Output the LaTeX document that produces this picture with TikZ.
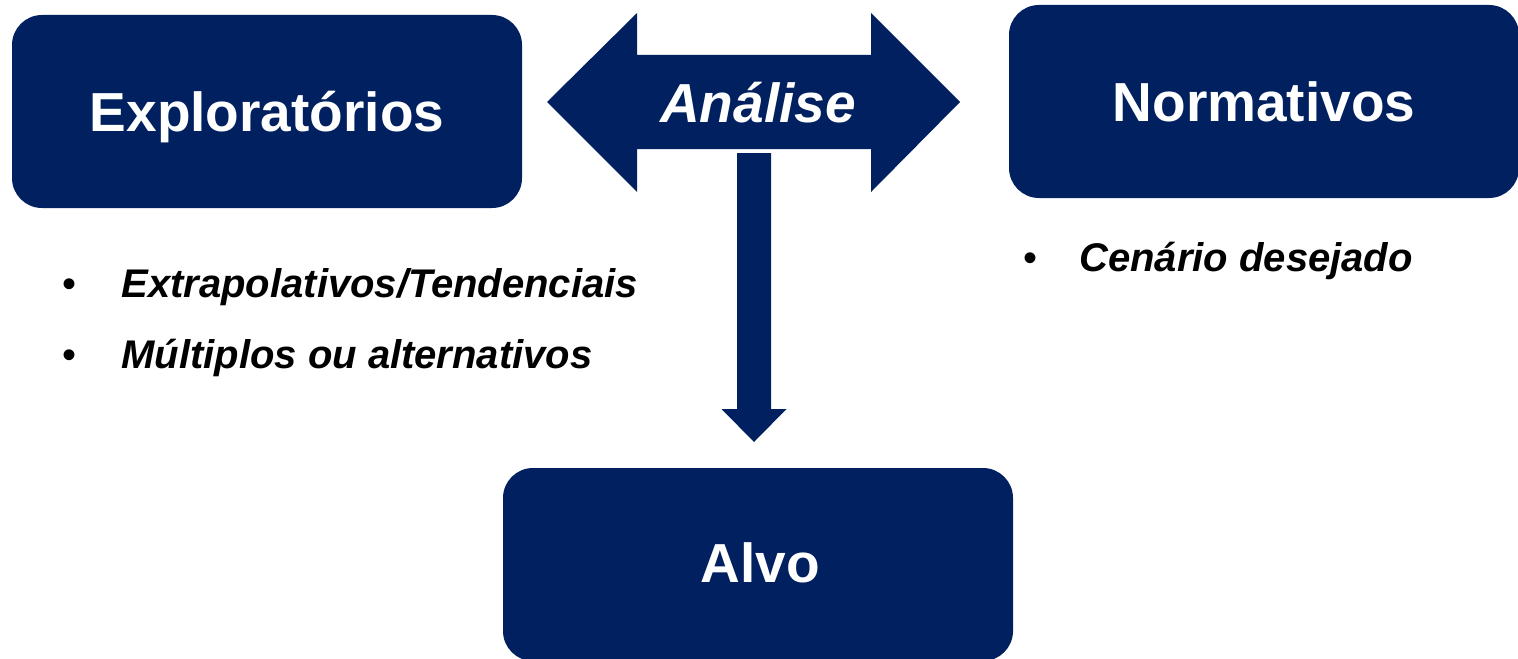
\documentclass[tikz,border=0pt]{standalone}
\usepackage{fontspec}
\setmainfont{Liberation Sans}
\definecolor{navy}{RGB}{0,32,96}
\begin{document}
\begin{tikzpicture}[x=0.5pt,y=-0.5pt,
  box/.style={fill=navy, draw=none, rounded corners=15pt, minimum width=255pt, minimum height=96.5pt, inner sep=0pt},
  boxtext/.style={text=white, font=\fontsize{27.5pt}{33pt}\selectfont\bfseries, inner sep=0pt, anchor=base},
  arrowtext/.style={text=white, font=\fontsize{27.5pt}{33pt}\selectfont\bfseries\itshape, inner sep=0pt, anchor=base},
  bultext/.style={font=\fontsize{20pt}{24pt}\selectfont\bfseries\itshape, inner sep=0pt, anchor=base west},
  buldot/.style={font=\fontsize{20pt}{24pt}\selectfont, inner sep=0pt, anchor=base},
  blockarrow/.style={fill=navy, draw=none}]
\useasboundingbox (0,0) rectangle (1518,658);

% boxes
\node[box] (expl) at (267,111.5) {};
\node[box] (norm) at (1264,101.5) {};
\node[box] (alvo) at (758,564.5) {};

% double arrow
\fill[blockarrow] (547,102) -- (637,13) -- (637,55) -- (871,55) -- (871,13) -- (960,102)
  -- (871,192) -- (871,149) -- (637,149) -- (637,192) -- cycle;

% down arrow
\coordinate (dtop) at (754,153);
\coordinate (dtip) at (754,442);
\fill[blockarrow] ([xshift=-8.5pt]dtop) -- ([xshift=8.5pt]dtop) -- ([xshift=8.5pt,yshift=16.5pt]dtip)
  -- ([xshift=16.25pt,yshift=16.5pt]dtip) -- (dtip) -- ([xshift=-16.25pt,yshift=16.5pt]dtip)
  -- ([xshift=-8.5pt,yshift=16.5pt]dtip) -- cycle;

% texts
\node[boxtext] (explt) at (267,132) {Exploratórios};
\node[boxtext] (normt) at (1264,121) {Normativos};
\node[boxtext] (alvot) at (760,582) {Alvo};
\node[arrowtext] (analise) at (758,122) {Análise};

% bullets
\node[buldot] (d1) at (70,297) {•};
\node[bultext] (b1) at (121,297) {Extrapolativos/Tendenciais};
\node[buldot] (d2) at (70,368) {•};
\node[bultext] (b2) at (121,368) {Múltiplos ou alternativos};
\node[buldot] (d3) at (1030,271) {•};
\node[bultext] (b3) at (1079,271) {Cenário desejado};
\end{tikzpicture}
\end{document}
